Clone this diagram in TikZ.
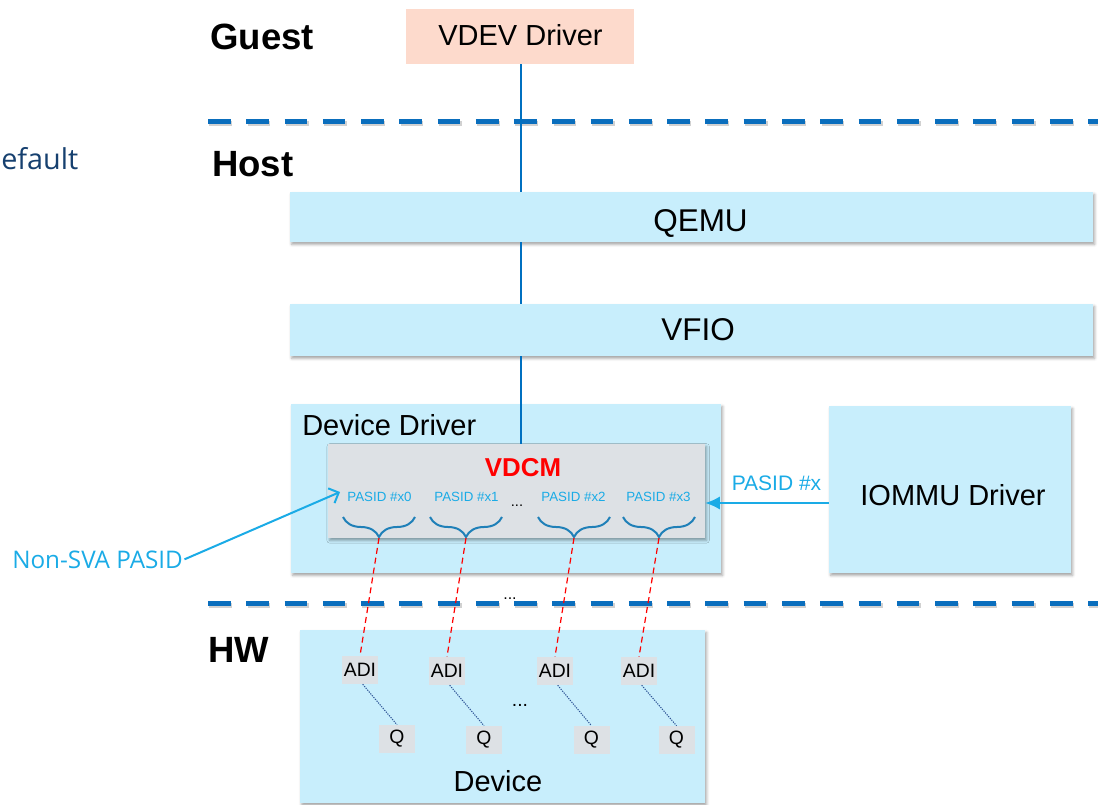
\documentclass[tikz,border=0pt]{standalone}
\usepackage{fontspec}
\setmainfont{Liberation Sans}
\newfontfamily\clearfont{Open Sans}
\usetikzlibrary{arrows.meta,shadows.blur,decorations.pathreplacing,fit}
\definecolor{boxblue}{HTML}{C8EEFC}
\definecolor{vgray}{HTML}{DDE1E5}
\definecolor{peach}{HTML}{FDDACC}
\definecolor{sepblue}{HTML}{0A6EBD}
\definecolor{vline}{HTML}{0070C0}
\definecolor{cyanc}{HTML}{1AABE6}
\definecolor{bracec}{HTML}{1F80B8}
\definecolor{darkblue}{HTML}{16406F}
\definecolor{dotc}{HTML}{2F5597}
\begin{document}
\begin{tikzpicture}[x=0.75pt,y=-0.75pt,
  shad/.style={blur shadow={shadow xshift=1.2pt, shadow yshift=-1.8pt, shadow blur radius=2pt, shadow opacity=35}},
  box/.style={fill=boxblue, inner sep=0pt, shad},
  gbox/.style={fill=vgray, inner sep=0pt},
  lbl/.style={font=\fontsize{21.75}{26}\selectfont, inner sep=0pt, anchor=base},
  biglbl/.style={font=\fontsize{23.6}{28}\selectfont, inner sep=0pt, anchor=base},
  layer/.style={font=\fontsize{27.4}{32}\selectfont\bfseries, inner sep=0pt, anchor=base west},
  sep/.style={draw=sepblue, line width=3.75pt, dash pattern=on 17pt off 11.7pt},
  sepshadow/.style={draw=black, opacity=0.18, line width=3.75pt, dash pattern=on 17pt off 11.7pt},
  pasid/.style={font=\fontsize{10}{12}\selectfont, text=cyanc, inner sep=0pt, anchor=base},
  smallbox/.style={gbox, minimum width=27pt, minimum height=21pt, font=\fontsize{14.5}{17}\selectfont},
  brc/.style={draw=bracec, line width=1.5pt, decorate, decoration={brace, mirror, amplitude=15pt}},
  reddash/.style={draw=red, line width=0.9pt, dash pattern=on 4.5pt off 3pt},
  dotl/.style={draw=dotc, line width=0.8pt, dash pattern=on 0.9pt off 0.9pt},
  conn/.style={draw=vline, line width=1.5pt},
  carrow/.style={draw=cyanc, line width=1.5pt}
]
\useasboundingbox (0,0) rectangle (1098,805);

% side text
\node[font=\clearfont\fontsize{21.6}{26}\selectfont, text=darkblue, inner sep=0pt, anchor=base west] (deflt) at (1,170) {efault};

% layer labels
\node[layer] (guest) at (210,50) {Guest};
\node[layer] (host) at (212,177) {Host};
\node[layer] (hw) at (208,662) {HW};

% dots behind second separator
\node[font=\fontsize{12}{14}\selectfont, inner sep=0pt] (sepdots) at (510,599) {...};

% separators
\coordinate (s1a) at (208,122); \coordinate (s1b) at (1110,122);
\coordinate (s2a) at (208,603); \coordinate (s2b) at (1110,603);
\draw[sepshadow] ([xshift=1pt,yshift=-1.5pt]s1a) -- ([xshift=1pt,yshift=-1.5pt]s1b);
\draw[sepshadow] ([xshift=1pt,yshift=-1.5pt]s2a) -- ([xshift=1pt,yshift=-1.5pt]s2b);
\draw[sep] (s1a) -- (s1b);
\draw[sep] (s2a) -- (s2b);

% boxes
\node[fit={(406,9) (634,64)}, fill=peach, inner sep=0pt] (vdev) {};
\node[lbl] (vdevlabel) at (520.5,46) {VDEV Driver};
\node[fit={(290,192) (1093,242)}, box] (qemu) {};
\node[biglbl] (qemulabel) at (700.5,232) {QEMU};
\node[fit={(290,304) (1093,356)}, box] (vfio) {};
\node[biglbl] (vfiolabel) at (698,340) {VFIO};
\node[fit={(291,404) (721,573)}, box] (dd) {};
\node[lbl, anchor=base west] (ddlabel) at (302,435) {Device Driver};
\node[fit={(829,406) (1071,573)}, box] (iommu) {};
\node[lbl] (iommulabel) at (953,505) {IOMMU Driver};
\node[fit={(328,444) (705,538)}, gbox, shad] (vdcm) {};
\node[font=\fontsize{19.4}{23}\selectfont\bfseries, text=red, inner sep=0pt, anchor=base] (vdcmlabel) at (523,476) {VDCM};

% PASID labels
\node[pasid] (p0) at (379.5,501) {PASID \#x0};
\node[pasid] (p1) at (466.5,501) {PASID \#x1};
\node[font=\fontsize{11}{13}\selectfont, inner sep=0pt, anchor=base] (pdots) at (517,506) {...};
\node[pasid] (p2) at (573.5,501) {PASID \#x2};
\node[pasid] (p3) at (658.5,501) {PASID \#x3};

% braces
\draw[brc] (343,517) -- (415,517);
\draw[brc] (430,517) -- (502,517);
\draw[brc] (538,517) -- (610,517);
\draw[brc] (623,517) -- (695,517);
\coordinate (b0) at (379,538);
\coordinate (b1) at (466,538);
\coordinate (b2) at (574,538);
\coordinate (b3) at (659,538);

% device
\node[fit={(300,630) (705,803)}, box] (device) {};
\node[lbl] (devlabel) at (498,791) {Device};
\node[smallbox] (adi0) at (360,670) {ADI};
\node[smallbox] (adi1) at (447,671) {ADI};
\node[smallbox] (adi2) at (555,671) {ADI};
\node[smallbox] (adi3) at (639,671) {ADI};
\node[smallbox] (q0) at (397,739) {Q};
\node[smallbox] (q1) at (484,740) {Q};
\node[smallbox] (q2) at (591.5,740) {Q};
\node[smallbox] (q3) at (676.5,740) {Q};
\node[font=\fontsize{14.5}{17}\selectfont, inner sep=0pt, anchor=base] (devdots) at (520,706) {...};

% red dashed links
\draw[reddash] (b0) -- (adi0.north);
\draw[reddash] (b1) -- (adi1.north);
\draw[reddash] (b2) -- (adi2.north);
\draw[reddash] (b3) -- (adi3.north);

% ADI to Q dotted
\draw[dotl] ([xshift=2pt]adi0.south) -- (q0.north);
\draw[dotl] ([xshift=2pt]adi1.south) -- (q1.north);
\draw[dotl] ([xshift=2pt]adi2.south) -- (q2.north);
\draw[dotl] ([xshift=2pt]adi3.south) -- (q3.north);

% vertical connector
\coordinate (vx) at (521,0);
\draw[conn] (vx |- vdev.south) -- (vx |- qemu.north);
\draw[conn] (vx |- qemu.south) -- (vx |- vfio.north);
\draw[conn] (vx |- vfio.south) -- (vx |- vdcm.north);

% PASID #x arrow
\coordinate (py) at (0,503);
\draw[carrow, -{Latex[length=11pt,width=10pt]}] (iommu.west |- py) -- (vdcm.east |- py);
\node[font=\fontsize{15.75}{19}\selectfont, text=cyanc, inner sep=0pt, anchor=base] (pxlabel) at (776.5,490) {PASID \#x};

% Non-SVA PASID
\node[font=\clearfont\fontsize{18.2}{22}\selectfont, text=cyanc, inner sep=0pt, anchor=base west] (nonsva) at (12,568) {Non-SVA PASID};
\coordinate (nsvtip) at (340,492);
\draw[carrow, -{Straight Barb[length=6pt,width=12pt]}] ([xshift=1pt]nonsva.east) -- (nsvtip);
\end{tikzpicture}
\end{document}
